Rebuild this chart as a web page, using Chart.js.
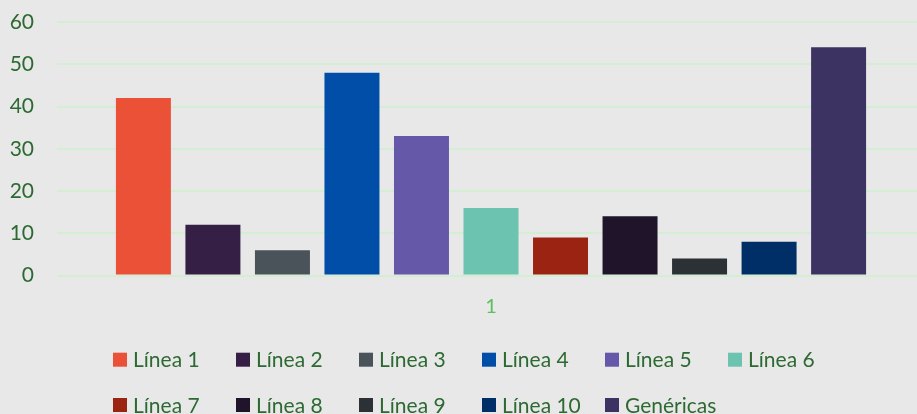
<!DOCTYPE html>
<html>
<head>
<meta charset="utf-8">
<script src="https://cdn.jsdelivr.net/npm/chart.js@4"></script>
<style>
  html, body { margin: 0; padding: 0; background: #e8e8e8; overflow: hidden; }
  #wrap { width: 925px; height: 414px; position: relative; }
</style>
</head>
<body>
<div id="wrap"><canvas id="c"></canvas></div>
<script>
const categories = ['1'];
const seriesNames = ['Línea 1','Línea 2','Línea 3','Línea 4','Línea 5','Línea 6','Línea 7','Línea 8','Línea 9','Línea 10','Genéricas'];
const seriesValues = [42, 12, 6, 48, 33, 16, 9, 14, 4, 8, 54];
const seriesColors = ['#ea5137','#351f45','#4a525a','#004ea8','#6558a8','#6bc3b0','#9b2311','#20142a','#2b3135','#002f68','#3c3362'];
const yTicks = [0, 10, 20, 30, 40, 50, 60];

const FONT = 'Lato, "Liberation Sans", sans-serif';
const TEXT = '#2d6a32';

const datasets = seriesNames.map((n, i) => ({
  label: n,
  data: [seriesValues[i]],
  backgroundColor: seriesColors[i],
  borderWidth: 0,
  categoryPercentage: 0.881,
  barPercentage: 0.791
}));

const gridLegend = {
  id: 'gridLegend',
  afterDraw(chart) {
    const ctx = chart.ctx;
    const ds = chart.data.datasets;
    const perRow = 6, x0 = 113, step = 123, rows = [359.7, 405];
    ctx.save();
    ctx.font = '21px ' + FONT;
    ctx.textBaseline = 'middle';
    ctx.textAlign = 'left';
    ds.forEach((d, i) => {
      const r = Math.floor(i / perRow), c = i % perRow;
      const x = x0 + c * step, y = rows[r];
      ctx.fillStyle = d.backgroundColor;
      ctx.fillRect(x, y - 7, 14, 14);
      ctx.fillStyle = TEXT;
      ctx.fillText(d.label, x + 20, y + 1);
    });
    ctx.restore();
  }
};

new Chart(document.getElementById('c'), {
  type: 'bar',
  data: { labels: categories, datasets },
  options: {
    responsive: true,
    maintainAspectRatio: false,
    animation: false,
    layout: { padding: { top: 22, left: 0, right: 0, bottom: 0 } },
    plugins: { legend: { display: false }, tooltip: { enabled: false } },
    scales: {
      x: {
        grid: { display: false, drawTicks: false },
        border: { display: false },
        ticks: { color: '#5cbf60', font: { family: FONT, size: 20 }, padding: 19 },
        afterFit(s) { s.height = 414 - 275.5; s.paddingLeft = 0; s.paddingRight = 0; }
      },
      y: {
        min: 0, max: 60,
        afterBuildTicks(s) { s.ticks = yTicks.map(v => ({ value: v })); },
        grid: { color: '#d4eed4', lineWidth: 2, drawTicks: false },
        border: { display: false },
        ticks: { color: TEXT, font: { family: FONT, size: 21 }, padding: 23 },
        afterFit(s) { s.width = 57; s.paddingTop = 0; s.paddingBottom = 0; }
      }
    }
  },
  plugins: [gridLegend]
});
</script>
</body>
</html>
